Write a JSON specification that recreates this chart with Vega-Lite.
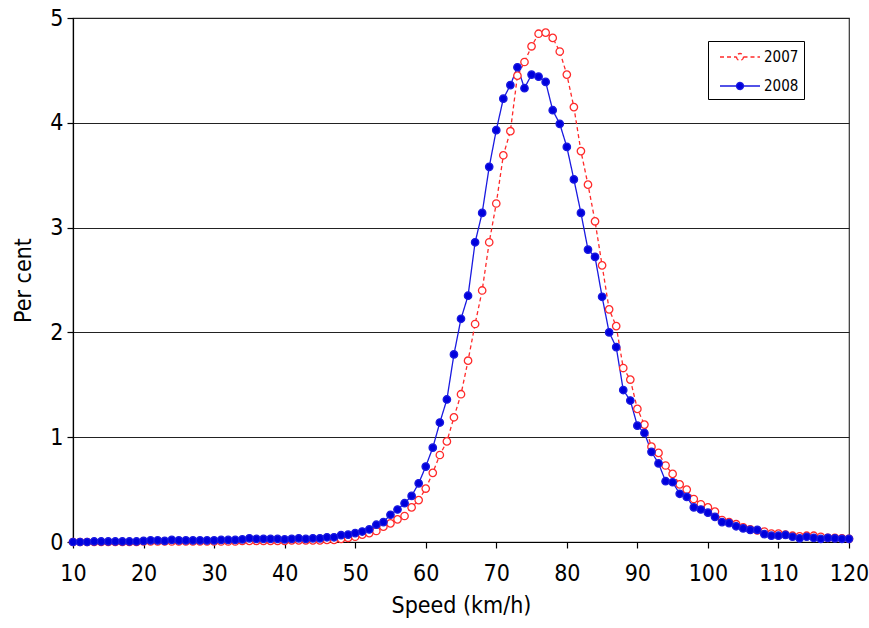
{
  "$schema": "https://vega.github.io/schema/vega-lite/v6.json",
  "width": 776,
  "height": 524,
  "autosize": {"type": "none"},
  "padding": {"left": 73, "top": 18, "right": 20, "bottom": 86},
  "background": "white",
  "config": {
    "font": "Liberation Sans Narrow, DejaVu Sans Condensed, sans-serif",
    "view": {"stroke": "#333", "strokeWidth": 1.2},
    "axis": {"labelColor": "#000", "titleColor": "#000", "domainColor": "#000", "tickColor": "#000", "labelFontWeight": "normal", "titleFontWeight": "normal"}
  },
  "data": {"values": [
    {"speed":10,"year":"2007","pct":0.0},{"speed":11,"year":"2007","pct":0.0},{"speed":12,"year":"2007","pct":0.0},{"speed":13,"year":"2007","pct":0.0},{"speed":14,"year":"2007","pct":0.0},{"speed":15,"year":"2007","pct":0.0},{"speed":16,"year":"2007","pct":0.0},{"speed":17,"year":"2007","pct":0.0},{"speed":18,"year":"2007","pct":0.0},{"speed":19,"year":"2007","pct":0.0},{"speed":20,"year":"2007","pct":0.005},
    {"speed":21,"year":"2007","pct":0.005},{"speed":22,"year":"2007","pct":0.005},{"speed":23,"year":"2007","pct":0.005},{"speed":24,"year":"2007","pct":0.005},{"speed":25,"year":"2007","pct":0.005},{"speed":26,"year":"2007","pct":0.005},{"speed":27,"year":"2007","pct":0.005},{"speed":28,"year":"2007","pct":0.005},{"speed":29,"year":"2007","pct":0.005},{"speed":30,"year":"2007","pct":0.005},
    {"speed":31,"year":"2007","pct":0.005},{"speed":32,"year":"2007","pct":0.005},{"speed":33,"year":"2007","pct":0.005},{"speed":34,"year":"2007","pct":0.01},{"speed":35,"year":"2007","pct":0.01},{"speed":36,"year":"2007","pct":0.01},{"speed":37,"year":"2007","pct":0.01},{"speed":38,"year":"2007","pct":0.01},{"speed":39,"year":"2007","pct":0.01},{"speed":40,"year":"2007","pct":0.01},
    {"speed":41,"year":"2007","pct":0.015},{"speed":42,"year":"2007","pct":0.015},{"speed":43,"year":"2007","pct":0.015},{"speed":44,"year":"2007","pct":0.015},{"speed":45,"year":"2007","pct":0.015},{"speed":46,"year":"2007","pct":0.02},{"speed":47,"year":"2007","pct":0.02},{"speed":48,"year":"2007","pct":0.03},{"speed":49,"year":"2007","pct":0.04},{"speed":50,"year":"2007","pct":0.05},
    {"speed":51,"year":"2007","pct":0.07},{"speed":52,"year":"2007","pct":0.085},{"speed":53,"year":"2007","pct":0.105},{"speed":54,"year":"2007","pct":0.146},{"speed":55,"year":"2007","pct":0.178},{"speed":56,"year":"2007","pct":0.216},{"speed":57,"year":"2007","pct":0.248},{"speed":58,"year":"2007","pct":0.33},{"speed":59,"year":"2007","pct":0.40},{"speed":60,"year":"2007","pct":0.51},
    {"speed":61,"year":"2007","pct":0.66},{"speed":62,"year":"2007","pct":0.83},{"speed":63,"year":"2007","pct":0.96},{"speed":64,"year":"2007","pct":1.19},{"speed":65,"year":"2007","pct":1.41},{"speed":66,"year":"2007","pct":1.73},{"speed":67,"year":"2007","pct":2.08},{"speed":68,"year":"2007","pct":2.40},{"speed":69,"year":"2007","pct":2.86},{"speed":70,"year":"2007","pct":3.23},
    {"speed":71,"year":"2007","pct":3.69},{"speed":72,"year":"2007","pct":3.92},{"speed":73,"year":"2007","pct":4.45},{"speed":74,"year":"2007","pct":4.58},{"speed":75,"year":"2007","pct":4.73},{"speed":76,"year":"2007","pct":4.85},{"speed":77,"year":"2007","pct":4.86},{"speed":78,"year":"2007","pct":4.81},{"speed":79,"year":"2007","pct":4.68},{"speed":80,"year":"2007","pct":4.46},
    {"speed":81,"year":"2007","pct":4.15},{"speed":82,"year":"2007","pct":3.73},{"speed":83,"year":"2007","pct":3.41},{"speed":84,"year":"2007","pct":3.06},{"speed":85,"year":"2007","pct":2.64},{"speed":86,"year":"2007","pct":2.22},{"speed":87,"year":"2007","pct":2.06},{"speed":88,"year":"2007","pct":1.66},{"speed":89,"year":"2007","pct":1.55},{"speed":90,"year":"2007","pct":1.27},
    {"speed":91,"year":"2007","pct":1.12},{"speed":92,"year":"2007","pct":0.91},{"speed":93,"year":"2007","pct":0.85},{"speed":94,"year":"2007","pct":0.73},{"speed":95,"year":"2007","pct":0.65},{"speed":96,"year":"2007","pct":0.55},{"speed":97,"year":"2007","pct":0.50},{"speed":98,"year":"2007","pct":0.41},{"speed":99,"year":"2007","pct":0.36},{"speed":100,"year":"2007","pct":0.33},
    {"speed":101,"year":"2007","pct":0.29},{"speed":102,"year":"2007","pct":0.21},{"speed":103,"year":"2007","pct":0.19},{"speed":104,"year":"2007","pct":0.17},{"speed":105,"year":"2007","pct":0.14},{"speed":106,"year":"2007","pct":0.12},{"speed":107,"year":"2007","pct":0.11},{"speed":108,"year":"2007","pct":0.10},{"speed":109,"year":"2007","pct":0.08},{"speed":110,"year":"2007","pct":0.08},
    {"speed":111,"year":"2007","pct":0.07},{"speed":112,"year":"2007","pct":0.06},{"speed":113,"year":"2007","pct":0.055},{"speed":114,"year":"2007","pct":0.06},{"speed":115,"year":"2007","pct":0.06},{"speed":116,"year":"2007","pct":0.05},{"speed":117,"year":"2007","pct":0.04},{"speed":118,"year":"2007","pct":0.04},{"speed":119,"year":"2007","pct":0.035},{"speed":120,"year":"2007","pct":0.03},
    {"speed":10,"year":"2008","pct":0.0},{"speed":11,"year":"2008","pct":0.0},{"speed":12,"year":"2008","pct":0.0},{"speed":13,"year":"2008","pct":0.005},{"speed":14,"year":"2008","pct":0.005},{"speed":15,"year":"2008","pct":0.005},{"speed":16,"year":"2008","pct":0.005},{"speed":17,"year":"2008","pct":0.005},{"speed":18,"year":"2008","pct":0.005},{"speed":19,"year":"2008","pct":0.005},{"speed":20,"year":"2008","pct":0.01},
    {"speed":21,"year":"2008","pct":0.015},{"speed":22,"year":"2008","pct":0.015},{"speed":23,"year":"2008","pct":0.01},{"speed":24,"year":"2008","pct":0.02},{"speed":25,"year":"2008","pct":0.015},{"speed":26,"year":"2008","pct":0.015},{"speed":27,"year":"2008","pct":0.015},{"speed":28,"year":"2008","pct":0.015},{"speed":29,"year":"2008","pct":0.015},{"speed":30,"year":"2008","pct":0.015},
    {"speed":31,"year":"2008","pct":0.02},{"speed":32,"year":"2008","pct":0.02},{"speed":33,"year":"2008","pct":0.02},{"speed":34,"year":"2008","pct":0.025},{"speed":35,"year":"2008","pct":0.035},{"speed":36,"year":"2008","pct":0.03},{"speed":37,"year":"2008","pct":0.03},{"speed":38,"year":"2008","pct":0.03},{"speed":39,"year":"2008","pct":0.03},{"speed":40,"year":"2008","pct":0.025},
    {"speed":41,"year":"2008","pct":0.03},{"speed":42,"year":"2008","pct":0.035},{"speed":43,"year":"2008","pct":0.03},{"speed":44,"year":"2008","pct":0.035},{"speed":45,"year":"2008","pct":0.035},{"speed":46,"year":"2008","pct":0.045},{"speed":47,"year":"2008","pct":0.045},{"speed":48,"year":"2008","pct":0.065},{"speed":49,"year":"2008","pct":0.07},{"speed":50,"year":"2008","pct":0.085},
    {"speed":51,"year":"2008","pct":0.1},{"speed":52,"year":"2008","pct":0.12},{"speed":53,"year":"2008","pct":0.165},{"speed":54,"year":"2008","pct":0.19},{"speed":55,"year":"2008","pct":0.26},{"speed":56,"year":"2008","pct":0.31},{"speed":57,"year":"2008","pct":0.37},{"speed":58,"year":"2008","pct":0.44},{"speed":59,"year":"2008","pct":0.56},{"speed":60,"year":"2008","pct":0.72},
    {"speed":61,"year":"2008","pct":0.9},{"speed":62,"year":"2008","pct":1.14},{"speed":63,"year":"2008","pct":1.36},{"speed":64,"year":"2008","pct":1.79},{"speed":65,"year":"2008","pct":2.13},{"speed":66,"year":"2008","pct":2.35},{"speed":67,"year":"2008","pct":2.86},{"speed":68,"year":"2008","pct":3.14},{"speed":69,"year":"2008","pct":3.58},{"speed":70,"year":"2008","pct":3.93},
    {"speed":71,"year":"2008","pct":4.23},{"speed":72,"year":"2008","pct":4.36},{"speed":73,"year":"2008","pct":4.53},{"speed":74,"year":"2008","pct":4.33},{"speed":75,"year":"2008","pct":4.46},{"speed":76,"year":"2008","pct":4.44},{"speed":77,"year":"2008","pct":4.39},{"speed":78,"year":"2008","pct":4.12},{"speed":79,"year":"2008","pct":3.99},{"speed":80,"year":"2008","pct":3.77},
    {"speed":81,"year":"2008","pct":3.46},{"speed":82,"year":"2008","pct":3.14},{"speed":83,"year":"2008","pct":2.79},{"speed":84,"year":"2008","pct":2.72},{"speed":85,"year":"2008","pct":2.34},{"speed":86,"year":"2008","pct":2.0},{"speed":87,"year":"2008","pct":1.86},{"speed":88,"year":"2008","pct":1.45},{"speed":89,"year":"2008","pct":1.35},{"speed":90,"year":"2008","pct":1.11},
    {"speed":91,"year":"2008","pct":1.04},{"speed":92,"year":"2008","pct":0.86},{"speed":93,"year":"2008","pct":0.75},{"speed":94,"year":"2008","pct":0.58},{"speed":95,"year":"2008","pct":0.57},{"speed":96,"year":"2008","pct":0.46},{"speed":97,"year":"2008","pct":0.43},{"speed":98,"year":"2008","pct":0.33},{"speed":99,"year":"2008","pct":0.31},{"speed":100,"year":"2008","pct":0.28},
    {"speed":101,"year":"2008","pct":0.24},{"speed":102,"year":"2008","pct":0.19},{"speed":103,"year":"2008","pct":0.18},{"speed":104,"year":"2008","pct":0.15},{"speed":105,"year":"2008","pct":0.13},{"speed":106,"year":"2008","pct":0.115},{"speed":107,"year":"2008","pct":0.115},{"speed":108,"year":"2008","pct":0.075},{"speed":109,"year":"2008","pct":0.06},{"speed":110,"year":"2008","pct":0.06},
    {"speed":111,"year":"2008","pct":0.067},{"speed":112,"year":"2008","pct":0.05},{"speed":113,"year":"2008","pct":0.035},{"speed":114,"year":"2008","pct":0.05},{"speed":115,"year":"2008","pct":0.04},{"speed":116,"year":"2008","pct":0.03},{"speed":117,"year":"2008","pct":0.04},{"speed":118,"year":"2008","pct":0.035},{"speed":119,"year":"2008","pct":0.03},{"speed":120,"year":"2008","pct":0.03}
  ]},
  "encoding": {
    "x": {
      "field": "speed", "type": "quantitative",
      "scale": {"domain": [10, 120], "nice": false, "zero": false},
      "axis": {"title": "Speed (km/h)", "values": [10,20,30,40,50,60,70,80,90,100,110,120], "grid": false, "labelFlush": false, "labelOverlap": false, "tickSize": 6, "labelFontSize": 23, "labelPadding": 14, "titleFontSize": 23, "titlePadding": 9, "domainWidth": 1.2, "tickWidth": 1.2}
    },
    "y": {
      "field": "pct", "type": "quantitative",
      "scale": {"domain": [0, 5], "nice": false},
      "axis": {"title": "Per cent", "values": [0,1,2,3,4,5], "grid": true, "labelFlush": false, "gridColor": "#222", "gridWidth": 1.2, "gridOpacity": 1, "tickSize": 6, "labelFontSize": 23, "labelPadding": 4, "titleFontSize": 23, "titlePadding": 14, "domainWidth": 1.2, "tickWidth": 1.2}
    }
  },
  "layer": [
    {
      "mark": {"type": "line", "strokeWidth": 1.3, "clip": false},
      "encoding": {
        "color": {
          "field": "year", "type": "nominal",
          "scale": {"domain": ["2007", "2008"], "range": ["#ff2a2a", "#1a1ae0"]},
          "legend": {
            "title": null, "orient": "none", "legendX": 635, "legendY": 23,
            "strokeColor": "#000", "fillColor": "#fff", "padding": 5,
            "labelFontSize": 15, "labelOffset": 29, "rowPadding": 10,
            "symbolType": "M-0.4,0L1.25,0M1.95,0L3.6,0M1.95,0A0.35,0.35,0,1,1,1.25,0A0.35,0.35,0,1,1,1.95,0Z",
            "symbolSize": 400, "symbolStrokeWidth": 1.3, "symbolOpacity": 1
          }
        },
        "strokeDash": {
          "field": "year", "type": "nominal",
          "scale": {"domain": ["2007", "2008"], "range": [[4, 3], [1, 0]]}
        }
      }
    },
    {
      "mark": {"type": "point", "shape": "circle", "filled": false, "size": 55, "strokeWidth": 1.3, "opacity": 1, "fillOpacity": 1, "clip": false},
      "encoding": {
        "color": {"field": "year", "type": "nominal"},
        "fill": {
          "field": "year", "type": "nominal",
          "scale": {"domain": ["2007", "2008"], "range": ["#ffffff", "#0000dd"]}
        }
      }
    }
  ]
}
